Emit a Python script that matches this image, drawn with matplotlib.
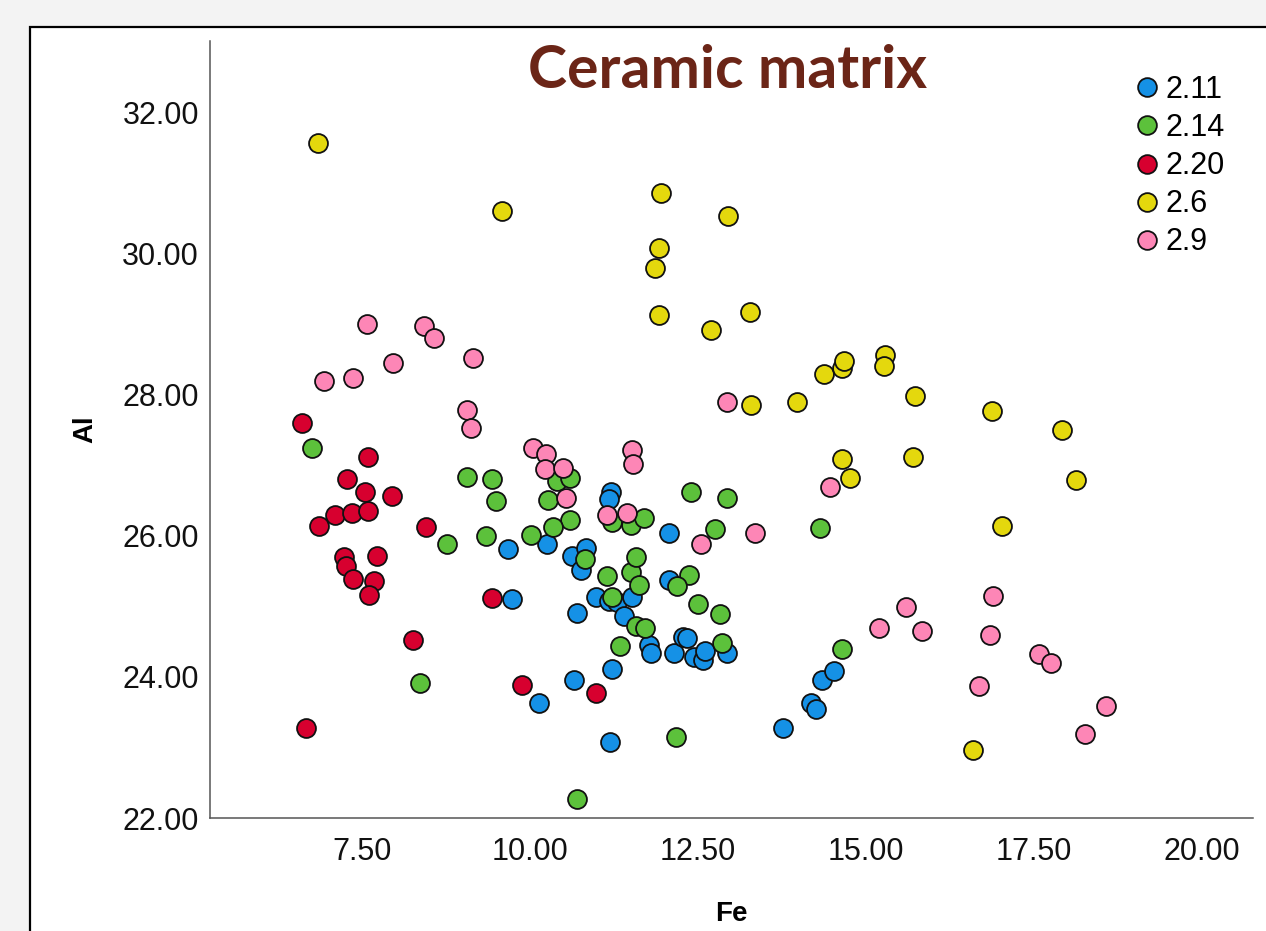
import matplotlib.pyplot as plt
from matplotlib.patches import Rectangle
from matplotlib.lines import Line2D

# Fe / Al values per group
fe_211 = [11.21, 11.18, 12.07, 9.67, 10.26, 10.62, 10.84, 10.76, 12.07, 10.99,
          11.18, 11.30, 11.52, 11.40, 10.70, 9.73, 11.77, 11.80, 12.14, 12.28,
          12.34, 12.44, 12.57, 12.60, 12.93, 11.22, 10.66, 10.13, 11.19, 13.76,
          14.18, 14.25, 14.35, 14.53]
al_211 = [26.62, 26.52, 26.04, 25.82, 25.89, 25.72, 25.83, 25.52, 25.37, 25.13,
          25.08, 25.06, 25.13, 24.87, 24.91, 25.11, 24.45, 24.34, 24.34, 24.57,
          24.55, 24.28, 24.24, 24.37, 24.34, 24.11, 23.96, 23.63, 23.08, 23.28,
          23.63, 23.55, 23.96, 24.09]

fe_214 = [6.76, 9.06, 9.43, 9.49, 10.27, 10.41, 10.59, 10.59, 10.35, 10.02,
          9.34, 8.76, 11.22, 11.51, 11.70, 10.82, 11.14, 11.51, 11.58, 11.62,
          11.22, 12.40, 12.93, 12.75, 12.37, 12.19, 12.50, 12.83, 11.58, 11.71,
          11.34, 12.86, 12.17, 10.70, 8.36, 14.32, 14.65]
al_214 = [27.25, 26.84, 26.81, 26.50, 26.51, 26.78, 26.82, 26.23, 26.13, 26.01,
          26.00, 25.89, 26.20, 26.16, 26.26, 25.67, 25.43, 25.49, 25.70, 25.30,
          25.13, 26.62, 26.54, 26.10, 25.45, 25.29, 25.04, 24.89, 24.72, 24.70,
          24.44, 24.48, 23.15, 22.27, 23.91, 26.11, 24.40]

fe_220 = [6.61, 7.59, 7.28, 7.54, 7.95, 7.10, 7.35, 7.59, 6.86, 8.45,
          7.23, 7.72, 7.26, 7.37, 7.68, 7.60, 9.44, 8.26, 9.89, 6.67, 10.99]
al_220 = [27.60, 27.12, 26.81, 26.62, 26.57, 26.30, 26.33, 26.35, 26.14, 26.13,
          25.70, 25.72, 25.57, 25.39, 25.36, 25.16, 25.12, 24.52, 23.89, 23.28, 23.77]

fe_26 = [6.85, 9.59, 11.95, 11.92, 11.86, 12.95, 11.92, 12.69, 13.27, 13.29,
         13.98, 14.37, 14.64, 14.68, 15.29, 15.27, 15.73, 16.88, 17.92, 14.65,
         15.70, 14.77, 18.12, 17.03, 16.59]
al_26 = [31.57, 30.61, 30.87, 30.09, 29.80, 30.54, 29.13, 28.92, 29.18, 27.86,
         27.90, 28.30, 28.38, 28.48, 28.57, 28.41, 27.99, 27.77, 27.50, 27.09,
         27.12, 26.82, 26.79, 26.14, 22.96]

fe_29 = [7.57, 8.42, 8.58, 9.15, 7.96, 7.37, 6.94, 9.06, 9.13, 10.05,
         10.24, 10.23, 10.50, 10.54, 11.52, 11.54, 11.14, 11.45, 13.35, 12.54,
         12.93, 14.46, 15.60, 15.20, 15.84, 16.89, 16.85, 16.68, 17.57, 17.75,
         18.57, 18.26]
al_29 = [29.01, 28.98, 28.81, 28.52, 28.45, 28.24, 28.20, 27.79, 27.53, 27.25,
         27.16, 26.95, 26.96, 26.54, 27.22, 27.02, 26.30, 26.33, 26.04, 25.89,
         27.90, 26.70, 24.99, 24.70, 24.65, 25.15, 24.60, 23.87, 24.33, 24.20,
         23.59, 23.19]

labels = ["2.11", "2.14", "2.20", "2.6", "2.9"]
colors = ["#1591e6", "#5cc13b", "#d7002f", "#e4d80d", "#fd86b6"]
groups = [(fe_211, al_211), (fe_214, al_214), (fe_220, al_220),
          (fe_26, al_26), (fe_29, al_29)]

xticks = [7.5, 10.0, 12.5, 15.0, 17.5, 20.0]
yticks = [22, 24, 26, 28, 30, 32]

plt.rcParams["font.family"] = ["Liberation Sans", "DejaVu Sans"]

fig = plt.figure(figsize=(12.66, 9.31), dpi=100, facecolor="#f3f3f3")

# white slide frame with black border, kept behind the axes
frame = Rectangle((30 / 1266, -0.05), 1.2, 0.05 + 1 - 27 / 931,
                  transform=fig.transFigure, facecolor="white",
                  edgecolor="black", linewidth=1.6, zorder=-10)
fig.patches.append(frame)

ax = fig.add_axes([210 / 1266, 1 - 818 / 931, (1253 - 210) / 1266, (818 - 41) / 931])
ax.set_facecolor("none")
ax.set_zorder(1)

for (fe, al), c in zip(groups, colors):
    ax.scatter(fe, al, s=185, c=c, edgecolors="#111111", linewidths=1.3, zorder=3)

ax.set_xlim(5.24, 20.76)
ax.set_ylim(22, 33.02)
ax.set_xticks(xticks)
ax.set_yticks(yticks)
ax.set_xticklabels([f"{v:.2f}" for v in xticks])
ax.set_yticklabels([f"{v:.2f}" for v in yticks])
ax.tick_params(length=0, labelsize=22, pad=8, colors="#111111")
ax.tick_params(axis="x", pad=14)

for side in ["top", "right"]:
    ax.spines[side].set_visible(False)
for side in ["left", "bottom"]:
    ax.spines[side].set_color("#555555")
    ax.spines[side].set_linewidth(1.1)

ax.set_xlabel("Fe", fontsize=20, fontweight="bold", labelpad=24)
ax.set_ylabel("Al", fontsize=20, fontweight="bold", labelpad=17)

handles = [Line2D([], [], marker="o", linestyle="none", markersize=13.5,
                  markerfacecolor=c, markeredgecolor="#111111", markeredgewidth=1.3)
           for c in colors]
leg = ax.legend(handles, labels, loc="upper left",
                bbox_to_anchor=(1138 / 1266, 1 - 75 / 931),
                bbox_transform=fig.transFigure, frameon=False, fontsize=22,
                handlelength=0.6, handletextpad=0.3, labelspacing=0.265,
                borderpad=0, borderaxespad=0)

fig.text(728 / 1266, 1 - 88 / 931, "Ceramic matrix", fontsize=42.5,
         fontweight="bold", family="Lato", color="#6b2517",
         ha="center", va="baseline")

fig.savefig("out.png", dpi=100, facecolor=fig.get_facecolor())
